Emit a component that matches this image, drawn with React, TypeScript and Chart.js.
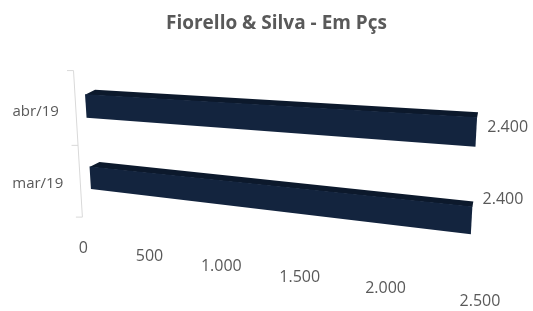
import { useEffect, useRef } from 'react';
import { Chart, registerables } from 'chart.js';

Chart.register(...registerables);

const chartTitle = 'Fiorello & Silva - Em Pçs';
const categories = ['mar/19', 'abr/19'];
const values = [2400, 2400];
const axisMin = 0;
const axisMax = 2500;
const axisStep = 500;

const FONT = "'Open Sans', 'Noto Sans', sans-serif";
const TEXT = '#595959';
const FRONT = '#13243e';
const TOP = '#0c192c';
const AXIS = '#d9d9d9';

const fmt = (v: number) => String(Math.round(v)).replace(/\B(?=(\d{3})+(?!\d))/g, '.');

// screen quadrilateral onto which the flat plot area is projected (3D perspective look)
const QUAD = { tl: [83.5, 68.6], tr: [499.5, 86.5], br: [489.0, 265.0], bl: [92.4, 212.1] };

function homography(q: typeof QUAD) {
  const [x0, y0] = q.tl, [x1, y1] = q.tr, [x2, y2] = q.br, [x3, y3] = q.bl;
  const dx1 = x1 - x2, dx2 = x3 - x2, sx = x0 - x1 + x2 - x3;
  const dy1 = y1 - y2, dy2 = y3 - y2, sy = y0 - y1 + y2 - y3;
  const det = dx1 * dy2 - dx2 * dy1;
  const g = (sx * dy2 - dx2 * sy) / det;
  const h = (dx1 * sy - sx * dy1) / det;
  const a = x1 - x0 + g * x1, b = x3 - x0 + h * x3, c = x0;
  const d = y1 - y0 + g * y1, e = y3 - y0 + h * y3, f = y0;
  return (s: number, t: number) => {
    const w = g * s + h * t + 1;
    return [(a * s + b * t + c) / w, (d * s + e * t + f) / w];
  };
}

function poly(ctx: CanvasRenderingContext2D, pts: number[][], color: string) {
  ctx.beginPath();
  ctx.moveTo(pts[0][0], pts[0][1]);
  for (let i = 1; i < pts.length; i++) ctx.lineTo(pts[i][0], pts[i][1]);
  ctx.closePath();
  ctx.fillStyle = color;
  ctx.fill();
}

const perspectivePlugin = {
  id: 'perspective3d',
  afterDatasetsDraw(chart: any) {
    const ctx: CanvasRenderingContext2D = chart.ctx;
    const area = chart.chartArea;
    const P = homography(QUAD);
    const xs = chart.scales.x;
    const ys = chart.scales.y;
    const S = (px: number) => (px - area.left) / area.width;
    const T = (py: number) => (py - area.top) / area.height;
    ctx.save();

    // category axis line with tick marks
    const axOff = [-10, 2];
    const a0 = P(0, 0), a1 = P(0, 1);
    ctx.strokeStyle = AXIS;
    ctx.lineWidth = 1;
    ctx.beginPath();
    ctx.moveTo(a0[0] + axOff[0], a0[1] + axOff[1]);
    ctx.lineTo(a1[0] + axOff[0], a1[1] + axOff[1] + 3);
    [0, 0.5, 1].forEach((t) => {
      const p = P(0, t);
      const yy = p[1] + axOff[1] + 3 * t;
      const xx = p[0] + axOff[0] - 0.5;
      ctx.moveTo(xx + 0.5, yy);
      ctx.lineTo(xx - 6, yy);
    });
    ctx.stroke();

    // bars
    const meta = chart.getDatasetMeta(0);
    meta.data.forEach((el: any) => {
      const { x, y, base, height } = el.getProps(['x', 'y', 'base', 'height'], true);
      const s0 = S(base), s1 = S(x);
      const t0 = T(y - height / 2), t1 = T(y + height / 2);
      const A = P(s0, t0), B = P(s1, t0), C = P(s1, t1), D = P(s0, t1);
      const dA = [10, -3.5], dB = [1, -4];
      poly(
        ctx,
        [[A[0], A[1] + 1.5], [B[0], B[1] + 1.5], [B[0] + dB[0], B[1] + dB[1]], [A[0] + dA[0], A[1] + dA[1]]],
        TOP
      );
      poly(ctx, [[A[0], A[1] + 1], [B[0], B[1] + 1], C, D], FRONT);
    });

    // data labels
    ctx.fillStyle = TEXT;
    ctx.font = `16px ${FONT}`;
    ctx.textAlign = 'left';
    ctx.textBaseline = 'middle';
    meta.data.forEach((el: any, i: number) => {
      const { x, y } = el.getProps(['x', 'y'], true);
      const tc = T(y);
      const pe = P(S(x), tc);
      const pl = P(0, tc);
      ctx.fillText(fmt(values[i]), pe[0] + 11, pl[1] + 22);
    });

    // category labels
    ctx.font = `15px ${FONT}`;
    ctx.textAlign = 'right';
    categories.forEach((c, i) => {
      const p = P(0, T(ys.getPixelForValue(i)));
      ctx.fillText(c, p[0] - 27, p[1] + 6);
    });

    // value axis labels
    ctx.font = `16px ${FONT}`;
    ctx.textAlign = 'center';
    xs.ticks.forEach((tk: any) => {
      const p = P(S(xs.getPixelForValue(tk.value)), 1);
      ctx.fillText(fmt(tk.value), p[0] - 9, p[1] + 36);
    });
    ctx.restore();
  },
};

export default function App() {
  const ref = useRef<HTMLCanvasElement>(null);
  useEffect(() => {
    document.body.style.margin = '0';
    const chart = new Chart(ref.current!, {
      type: 'bar',
      data: {
        labels: categories,
        datasets: [
          {
            data: values,
            backgroundColor: 'rgba(0,0,0,0)',
            borderWidth: 0,
            barPercentage: 1,
            categoryPercentage: 0.334,
          },
        ],
      },
      options: {
        indexAxis: 'y',
        responsive: false,
        animation: false,
        devicePixelRatio: 1,
        events: [],
        layout: { padding: { left: 80, right: 60, top: 0, bottom: 60 } },
        plugins: {
          legend: { display: false },
          tooltip: { enabled: false },
          title: {
            display: true,
            text: chartTitle,
            color: TEXT,
            font: { family: FONT, size: 19, weight: 'bold' },
            padding: { top: 12, bottom: 20 },
          },
        },
        scales: {
          x: {
            min: axisMin,
            max: axisMax,
            ticks: { stepSize: axisStep, display: false },
            grid: { display: false },
            border: { display: false },
          },
          y: {
            reverse: true,
            ticks: { display: false },
            grid: { display: false },
            border: { display: false },
          },
        },
      },
      plugins: [perspectivePlugin],
    });
    return () => chart.destroy();
  }, []);
  return (
    <div style={{ width: 533, height: 311 }}>
      <canvas ref={ref} width={533} height={311} />
    </div>
  );
}
